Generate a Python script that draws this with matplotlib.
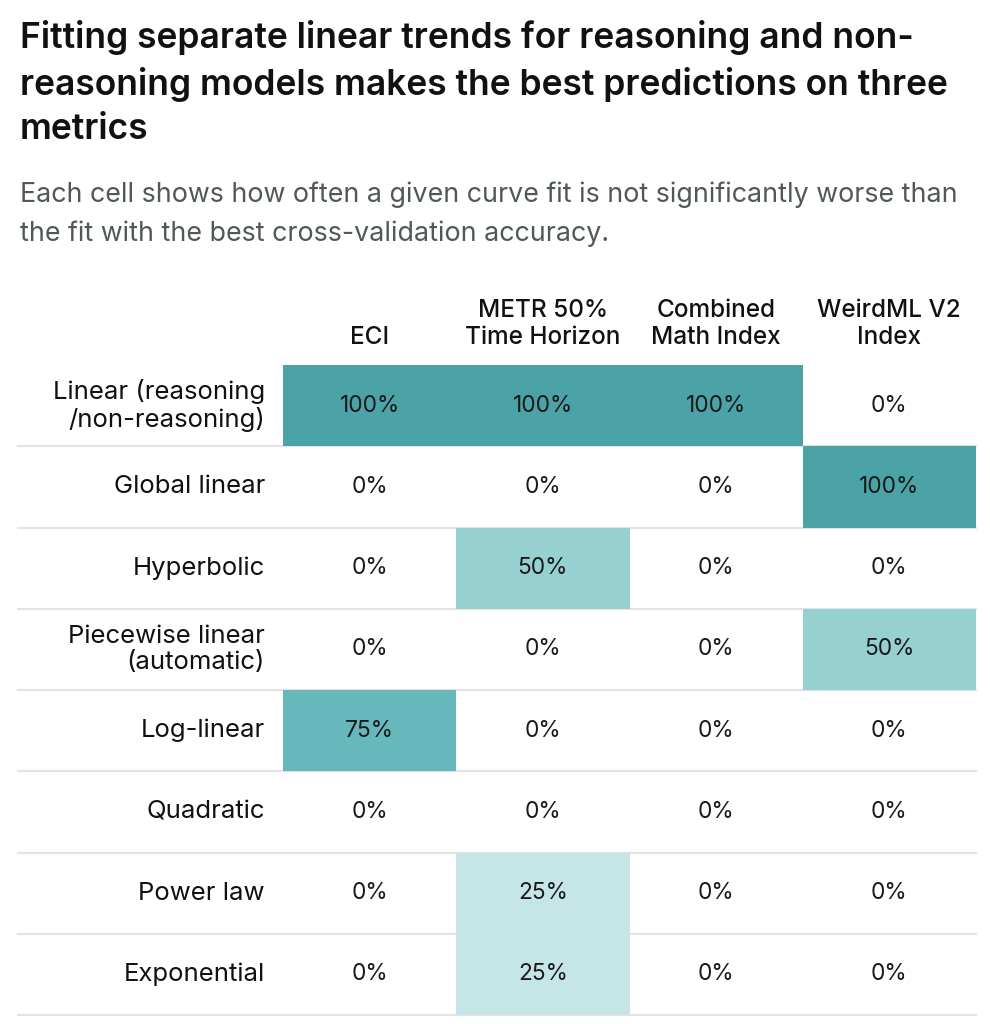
import numpy as np
import matplotlib
matplotlib.use("Agg")
import matplotlib.pyplot as plt
from matplotlib.colors import LinearSegmentedColormap

plt.rcParams['font.family'] = ['Inter', 'DejaVu Sans']

# data
fits = ["Linear (reasoning\n/non-reasoning)", "Global linear", "Hyperbolic",
        "Piecewise linear\n(automatic)", "Log-linear", "Quadratic",
        "Power law", "Exponential"]
metrics = ["ECI", "METR 50%\nTime Horizon", "Combined\nMath Index", "WeirdML V2\nIndex"]
eci = [100, 0, 0, 0, 75, 0, 0, 0]
metr = [100, 0, 50, 0, 0, 0, 25, 25]
math_idx = [100, 0, 0, 0, 0, 0, 0, 0]
weirdml = [0, 100, 0, 50, 0, 0, 0, 0]

vals = np.array([eci, metr, math_idx, weirdml]).T

title = ("Fitting separate linear trends for reasoning and non-\n"
         "reasoning models makes the best predictions on three\n"
         "metrics")
subtitle = ("Each cell shows how often a given curve fit is not significantly worse than\n"
            "the fit with the best cross-validation accuracy.")

cmap = LinearSegmentedColormap.from_list(
    "teal", [(0, "#ffffff"), (0.25, "#c6e5e7"), (0.5, "#96d0d1"),
             (0.75, "#66b8bc"), (1.0, "#4ba3a8")])

W, H = 990, 1024
fig = plt.figure(figsize=(W / 100, H / 100), dpi=100)
fig.patch.set_facecolor("white")

# grid area in pixels
x0, x1 = 283, 976
y0, y1 = 365, 1015
ax = fig.add_axes([x0 / W, 1 - y1 / H, (x1 - x0) / W, (y1 - y0) / H])
nrow, ncol = vals.shape
# zero cells stay unpainted so the row rules show through them
shaded = np.ma.masked_equal(vals, 0)
ax.pcolormesh(np.arange(ncol + 1), np.arange(nrow + 1), shaded, cmap=cmap,
              vmin=0, vmax=100, zorder=2)
ax.set_xlim(0, ncol)
ax.set_ylim(nrow, 0)
ax.axis("off")

colw = (x1 - x0) / ncol
left_line = (18 - x0) / colw
for r in range(1, nrow + 1):
    ax.plot([left_line, ncol], [r, r], color="#e3e3e3", lw=1.5,
            clip_on=False, zorder=1)

for r in range(nrow):
    ax.text((265 - x0) / colw, r + 0.5, fits[r], ha="right", va="center",
            fontsize=18.5, color="#111111", linespacing=1.16)
    for c in range(ncol):
        ax.text(c + 0.5, r + 0.5, f"{vals[r, c]}%", ha="center", va="center",
                fontsize=16.4, color="#1a1a1a", zorder=3)

for c in range(ncol):
    ax.text(c + 0.5, -0.2, metrics[c], ha="center", va="bottom",
            fontsize=17.5, fontweight="medium", color="#111111", linespacing=1.22)

fig.text(20 / W, 1 - 20 / H, title, ha="left", va="top", fontsize=25.5,
         fontweight="semibold", color="#111111", linespacing=1.42)
fig.text(20 / W, 1 - 181 / H, subtitle, ha="left", va="top", fontsize=19.3,
         color="#50585a", linespacing=1.62)

fig.savefig("out.png", dpi=100, facecolor="white")
